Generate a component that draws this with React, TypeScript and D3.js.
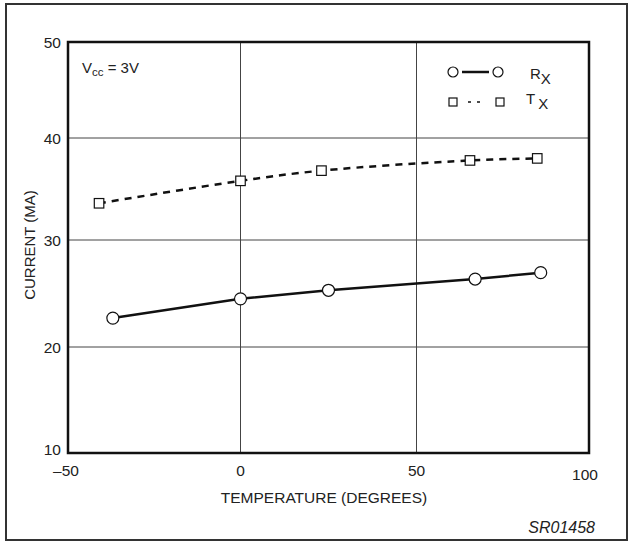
import React from "react";
import * as d3 from "d3";

const xTicks = [-50, 0, 50, 100];
const yTicks = [10, 20, 30, 40, 50];

const rxTemp = [-37, 0, 25, 67, 86];
const rxCurrent = [22.7, 24.5, 25.3, 26.35, 26.95];

const txTemp = [-41, 0, 23, 65.5, 85];
const txCurrent = [33.6, 35.8, 36.8, 37.8, 38.0];

const FONT = "'Liberation Sans', Arial, Helvetica, sans-serif";

export default function App() {
  const W = 633;
  const H = 544;
  const x = d3.scaleLinear().domain([-50, 0, 50, 100]).range([68, 240.5, 416.5, 589]);
  const y = d3.scaleLinear().domain([10, 20, 30, 40, 50]).range([453, 347, 240, 138, 42]);

  const rx = rxTemp.map((t, i) => [t, rxCurrent[i]] as [number, number]);
  const tx = txTemp.map((t, i) => [t, txCurrent[i]] as [number, number]);

  const lineLin = d3.line<[number, number]>().x((d) => x(d[0])).y((d) => y(d[1]));
  const lineCurve = d3
    .line<[number, number]>()
    .x((d) => x(d[0]))
    .y((d) => y(d[1]))
    .curve(d3.curveCatmullRom.alpha(0.5));

  const [x0, x1] = [x(-50), x(100)];
  const [y0, y1] = [y(10), y(50)];
  const sq = 9.5;

  return (
    <svg
      width={W}
      height={H}
      style={{ position: "absolute", left: 0, top: 0, background: "#fff" }}
      fontFamily={FONT}
    >
      <rect x={0} y={0} width={W} height={H} fill="#fff" />
      {/* outer frame */}
      <rect x={6} y={4} width={621} height={536} fill="none" stroke="#333" strokeWidth={2} />

      {/* grid */}
      {xTicks.slice(1, -1).map((t) => (
        <line key={"gx" + t} x1={x(t)} x2={x(t)} y1={y1} y2={y0} stroke="#444" strokeWidth={1} />
      ))}
      {yTicks.slice(1, -1).map((t) => (
        <line key={"gy" + t} x1={x0} x2={x1} y1={y(t)} y2={y(t)} stroke="#444" strokeWidth={1} />
      ))}

      {/* plot border */}
      <rect x={x0} y={y1} width={x1 - x0} height={y0 - y1} fill="none" stroke="#111" strokeWidth={2.5} />

      {/* y tick labels */}
      {yTicks.map((t) => (
        <text key={"yt" + t} x={61} y={y(t) + 5.5 - (t === 10 ? 4 : 0)} textAnchor="end" fontSize={15.5} fill="#222">
          {t}
        </text>
      ))}
      {/* x tick labels */}
      {xTicks.map((t) => (
        <text
          key={"xt" + t}
          x={x(t) + (t === 100 ? -4 : t === -50 ? -2 : 0)}
          y={y0 + 23 + (t === 100 ? 4 : 0)}
          textAnchor="middle"
          fontSize={15.5}
          fill="#222"
        >
          {t < 0 ? "\u2013" + Math.abs(t) : t}
        </text>
      ))}

      {/* axis titles */}
      <text x={324} y={503} textAnchor="middle" fontSize={15.5} fill="#222">
        TEMPERATURE (DEGREES)
      </text>
      <text
        transform={`translate(35, 245) rotate(-90)`}
        textAnchor="middle"
        fontSize={15}
        fill="#222"
      >
        CURRENT (MA)
      </text>
      <text x={595} y={533} textAnchor="end" fontSize={16} fontStyle="italic" fill="#222">
        SR01458
      </text>

      {/* Vcc annotation */}
      <text x={82} y={73} fontSize={15} fill="#222">
        V<tspan fontSize={11.5} dy={3}>cc</tspan>
        <tspan dy={-3}> = 3V</tspan>
      </text>

      {/* Tx dashed line */}
      <path
        d={lineCurve(tx) || ""}
        fill="none"
        stroke="#111"
        strokeWidth={2.5}
        strokeDasharray="7,6"
      />
      {/* Rx solid line */}
      <path d={lineLin(rx) || ""} fill="none" stroke="#111" strokeWidth={2.5} />

      {tx.map((d, i) => (
        <rect
          key={"ts" + i}
          x={x(d[0]) - sq / 2}
          y={y(d[1]) - sq / 2}
          width={sq}
          height={sq}
          fill="#fff"
          stroke="#111"
          strokeWidth={1.2}
        />
      ))}
      {rx.map((d, i) => (
        <circle key={"rc" + i} cx={x(d[0])} cy={y(d[1])} r={6} fill="#fff" stroke="#111" strokeWidth={1.2} />
      ))}

      {/* legend */}
      <g>
        <line x1={462} x2={489} y1={72} y2={72} stroke="#111" strokeWidth={2.5} />
        <circle cx={453} cy={72} r={5} fill="#fff" stroke="#111" strokeWidth={1.2} />
        <circle cx={498} cy={72} r={5} fill="#fff" stroke="#111" strokeWidth={1.2} />
        <text x={530} y={79} fontSize={15} fill="#222">
          R<tspan dy={5}>X</tspan>
        </text>

        <line x1={468} x2={484} y1={102} y2={102} stroke="#111" strokeWidth={1.5} strokeDasharray="3,6" />
        <rect x={449} y={98} width={8} height={8} fill="#fff" stroke="#111" strokeWidth={1.2} />
        <rect x={496} y={98} width={8} height={8} fill="#fff" stroke="#111" strokeWidth={1.2} />
        <text x={526} y={104} fontSize={15} fill="#222">
          T<tspan dx={3} dy={5}>X</tspan>
        </text>
      </g>
    </svg>
  );
}
